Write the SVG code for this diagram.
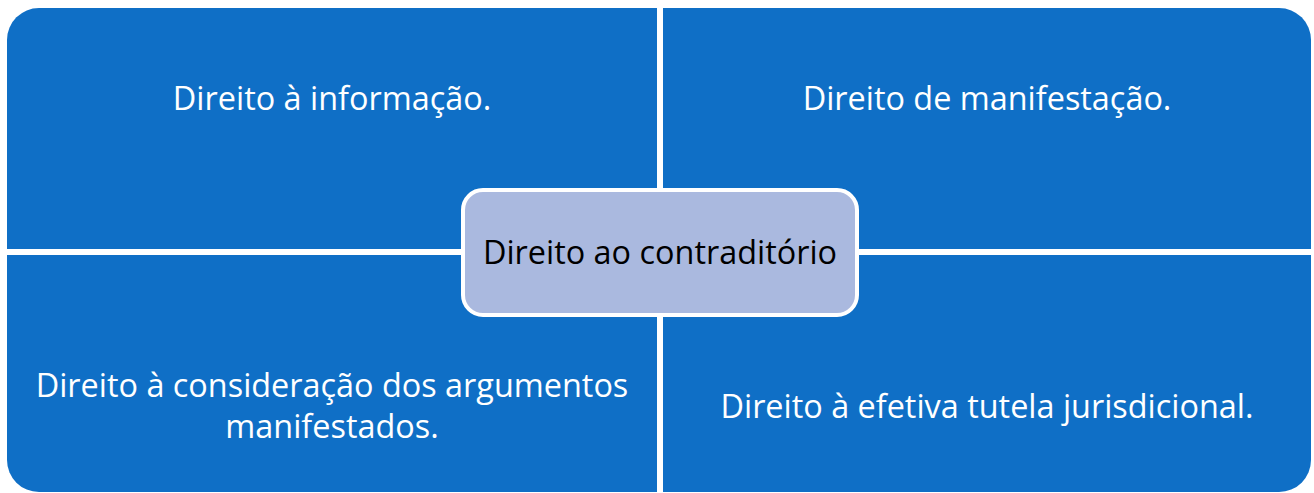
<svg xmlns="http://www.w3.org/2000/svg" width="1314" height="493" viewBox="0 0 1314 493">
  <style>
    .q { fill: #0F6FC6; }
    .qt { font-family: "Open Sans", "Noto Sans", sans-serif; font-size: 32.4px; fill: #FFFFFF; text-anchor: middle; }
    .ct { font-family: "Open Sans", "Noto Sans", sans-serif; font-size: 32.4px; fill: #000000; text-anchor: middle; }
    .c { fill: #AAB9DF; stroke: #FFFFFF; stroke-width: 4; }
  </style>
  <rect width="1314" height="493" fill="#FFFFFF"/>
  <g id="quadrant-top-left">
    <path class="q" d="M7,40 A32,32 0 0 1 39,8 L657,8 L657,249 L7,249 Z"/>
    <text class="qt" x="332" y="110">Direito à informação.</text>
  </g>
  <g id="quadrant-top-right">
    <path class="q" d="M663,8 L1279,8 A32,32 0 0 1 1311,40 L1311,249 L663,249 Z"/>
    <text class="qt" x="987" y="110">Direito de manifestação.</text>
  </g>
  <g id="quadrant-bottom-left">
    <path class="q" d="M7,255 L657,255 L657,492 L39,492 A32,32 0 0 1 7,460 Z"/>
    <text class="qt" x="332" y="397">Direito à consideração dos argumentos</text>
    <text class="qt" x="332" y="438">manifestados.</text>
  </g>
  <g id="quadrant-bottom-right">
    <path class="q" d="M663,255 L1311,255 L1311,460 A32,32 0 0 1 1279,492 L663,492 Z"/>
    <text class="qt" x="987" y="418">Direito à efetiva tutela jurisdicional.</text>
  </g>
  <g id="connectors"></g>
  <g id="center">
    <rect class="c" x="463" y="190" width="394" height="125" rx="20" ry="20"/>
    <text class="ct" x="660" y="264">Direito ao contraditório</text>
  </g>
</svg>
